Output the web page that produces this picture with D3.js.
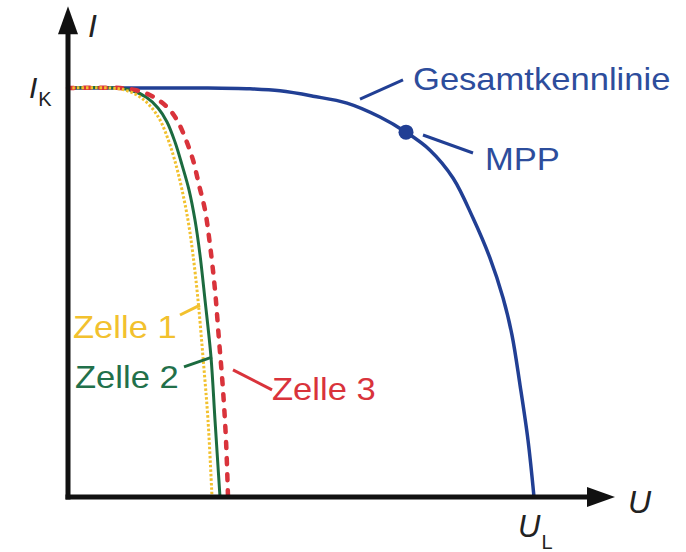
<!DOCTYPE html>
<html>
<head>
<meta charset="utf-8">
<script src="https://cdn.jsdelivr.net/npm/d3@7"></script>
<style>
	body { margin: 0; background: #fff; }
	svg text { font-family: "Liberation Sans", Arial, sans-serif; }
</style>
</head>
<body>
<script>
// U/I values (U in arbitrary units, I relative to I_K)
let u_gesamt = [0, 26.4, 36.4, 42.4, 49, 55.8, 62.4, 67.6, 72.4, 77, 81, 84.4, 87, 88.8, 90.4, 92, 93.2];
let i_gesamt = [1, 1, 0.998, 0.993, 0.980, 0.963, 0.929, 0.892, 0.848, 0.780, 0.682, 0.584, 0.487, 0.396, 0.274, 0.139, 0];

let u_zelle1 = [0, 8.4, 11.4, 14.4, 16.8, 18.6, 20.2, 21.6, 22.8, 24, 25, 26, 27, 28, 28.8];
let i_zelle1 = [1, 1, 0.995, 0.978, 0.951, 0.917, 0.868, 0.812, 0.751, 0.677, 0.592, 0.482, 0.342, 0.188, 0];

let u_zelle2 = [0, 9.4, 12.4, 15.6, 18, 19.8, 21.4, 22.8, 24.2, 25.4, 26.4, 27.4, 28.6, 29.4, 30.4];
let i_zelle2 = [1, 1, 0.995, 0.978, 0.951, 0.917, 0.868, 0.812, 0.751, 0.677, 0.592, 0.482, 0.342, 0.188, 0];

let u_zelle3 = [0, 10.4, 13.4, 16, 18.4, 20.4, 22, 23.6, 25, 26.2, 27.4, 28.4, 29.4, 30.2, 31, 31.6, 32];
let i_zelle3 = [1, 1, 0.995, 0.985, 0.968, 0.946, 0.917, 0.873, 0.824, 0.763, 0.702, 0.616, 0.506, 0.384, 0.262, 0.139, 0];

let mpp = {u: 67.6, i: 0.892};
let i_k = 1;
let u_l = 93.2;

// labels: text, leader line (from -> to) and text anchor, all in data units
let label_names = ["Gesamtkennlinie", "MPP", "Zelle 1", "Zelle 2", "Zelle 3"];
let label_pos = [[69, 0.995], [83.4, 0.80], [1, 0.389], [1.4, 0.267], [40.8, 0.237]];
let leader_from = [[58.4, 0.973], [71, 0.885], [22.4, 0.445], [23.2, 0.318], [33, 0.311]];
let leader_to = [[67, 1.02], [81, 0.841], [26.4, 0.469], [28.8, 0.342], [40.8, 0.262]];

let u_max = 109.4;
let i_max = 1.2;

const width = 686, height = 552;

let x = d3.scaleLinear().domain([0, 110]).range([68, 618]);
let y = d3.scaleLinear().domain([0, 1.2]).range([497, 6.2]);

let colors = {
	gesamt: "#213f94",
	gesamt_text: "#2d4d9c",
	zelle1: "#f2c12e",
	zelle2: "#1c6b3f",
	zelle2_text: "#22704a",
	zelle3: "#d9333b"
};
let label_colors = [colors.gesamt_text, colors.gesamt_text, colors.zelle1, colors.zelle2_text, colors.zelle3];
let leader_colors = [colors.gesamt, colors.gesamt, colors.zelle1, colors.zelle2, colors.zelle3];

let svg = d3.select("body").append("svg")
	.attr("width", width)
	.attr("height", height);

let line = d3.line()
	.x(d => x(d[0]))
	.y(d => y(d[1]))
	.curve(d3.curveCatmullRom.alpha(0.5));

function zip(us, is) {
	return us.map((u, k) => [u, is[k]]);
}

// curves
svg.append("path")
	.datum(zip(u_gesamt, i_gesamt))
	.attr("d", line)
	.attr("fill", "none")
	.attr("stroke", colors.gesamt)
	.attr("stroke-width", 3.5);

svg.append("path")
	.datum(zip(u_zelle2, i_zelle2))
	.attr("d", line)
	.attr("fill", "none")
	.attr("stroke", colors.zelle2)
	.attr("stroke-width", 3);

svg.append("path")
	.datum(zip(u_zelle3, i_zelle3))
	.attr("d", line)
	.attr("fill", "none")
	.attr("stroke", colors.zelle3)
	.attr("stroke-width", 4.5)
	.attr("stroke-linecap", "round")
	.attr("stroke-dasharray", "6,10");

svg.append("path")
	.datum(zip(u_zelle1, i_zelle1))
	.attr("d", line)
	.attr("fill", "none")
	.attr("stroke", colors.zelle1)
	.attr("stroke-width", 3)
	.attr("stroke-dasharray", "2.5,2");

// MPP dot
svg.append("circle")
	.attr("cx", x(mpp.u))
	.attr("cy", y(mpp.i))
	.attr("r", 7.5)
	.attr("fill", colors.gesamt);

// axes with arrow heads
let x0 = x(0), y0 = y(0);
svg.append("line")
	.attr("x1", x0 - 2.5).attr("y1", y0)
	.attr("x2", x(u_max) - 26).attr("y2", y0)
	.attr("stroke", "#111").attr("stroke-width", 5);
svg.append("path")
	.attr("d", `M${x(u_max)},${y0} L${x(u_max) - 28},${y0 - 10} L${x(u_max) - 28},${y0 + 10} Z`)
	.attr("fill", "#111");

svg.append("line")
	.attr("x1", x0).attr("y1", y0 + 2.5)
	.attr("x2", x0).attr("y2", y(i_max) + 26)
	.attr("stroke", "#111").attr("stroke-width", 5);
svg.append("path")
	.attr("d", `M${x0},${y(i_max)} L${x0 - 10},${y(i_max) + 28} L${x0 + 10},${y(i_max) + 28} Z`)
	.attr("fill", "#111");

// axis names
svg.append("text")
	.attr("x", x0 + 20).attr("y", 37)
	.attr("font-size", 32).attr("font-style", "italic")
	.attr("fill", "#222")
	.text("I");

svg.append("text")
	.attr("x", x(u_max) + 13).attr("y", y0 + 16)
	.attr("font-size", 32).attr("font-style", "italic")
	.attr("fill", "#222")
	.text("U");

// I_K and U_L
let ik = svg.append("text")
	.attr("x", 29).attr("y", y(i_k) + 10)
	.attr("font-size", 30)
	.attr("fill", "#222");
ik.append("tspan").attr("font-style", "italic").text("I");
ik.append("tspan").attr("font-size", 20).attr("dy", 8).attr("dx", 1).text("K");

let ul = svg.append("text")
	.attr("x", x(u_l) - 16).attr("y", y0 + 40)
	.attr("font-size", 31)
	.attr("fill", "#222");
ul.append("tspan").attr("font-style", "italic").text("U");
ul.append("tspan").attr("font-size", 20).attr("dy", 12).attr("dx", 1).text("L");

// leader lines and labels
svg.selectAll(".leader")
	.data(label_names)
	.join("line")
	.attr("class", "leader")
	.attr("x1", (d, k) => x(leader_from[k][0]))
	.attr("y1", (d, k) => y(leader_from[k][1]))
	.attr("x2", (d, k) => x(leader_to[k][0]))
	.attr("y2", (d, k) => y(leader_to[k][1]))
	.attr("stroke", (d, k) => leader_colors[k])
	.attr("stroke-width", 3);

svg.selectAll(".label")
	.data(label_names)
	.join("text")
	.attr("class", "label")
	.attr("transform", (d, k) => `translate(${x(label_pos[k][0])},${y(label_pos[k][1])}) scale(1.08,1)`)
	.attr("font-size", 32)
	.attr("fill", (d, k) => label_colors[k])
	.text(d => d);
</script>
</body>
</html>
